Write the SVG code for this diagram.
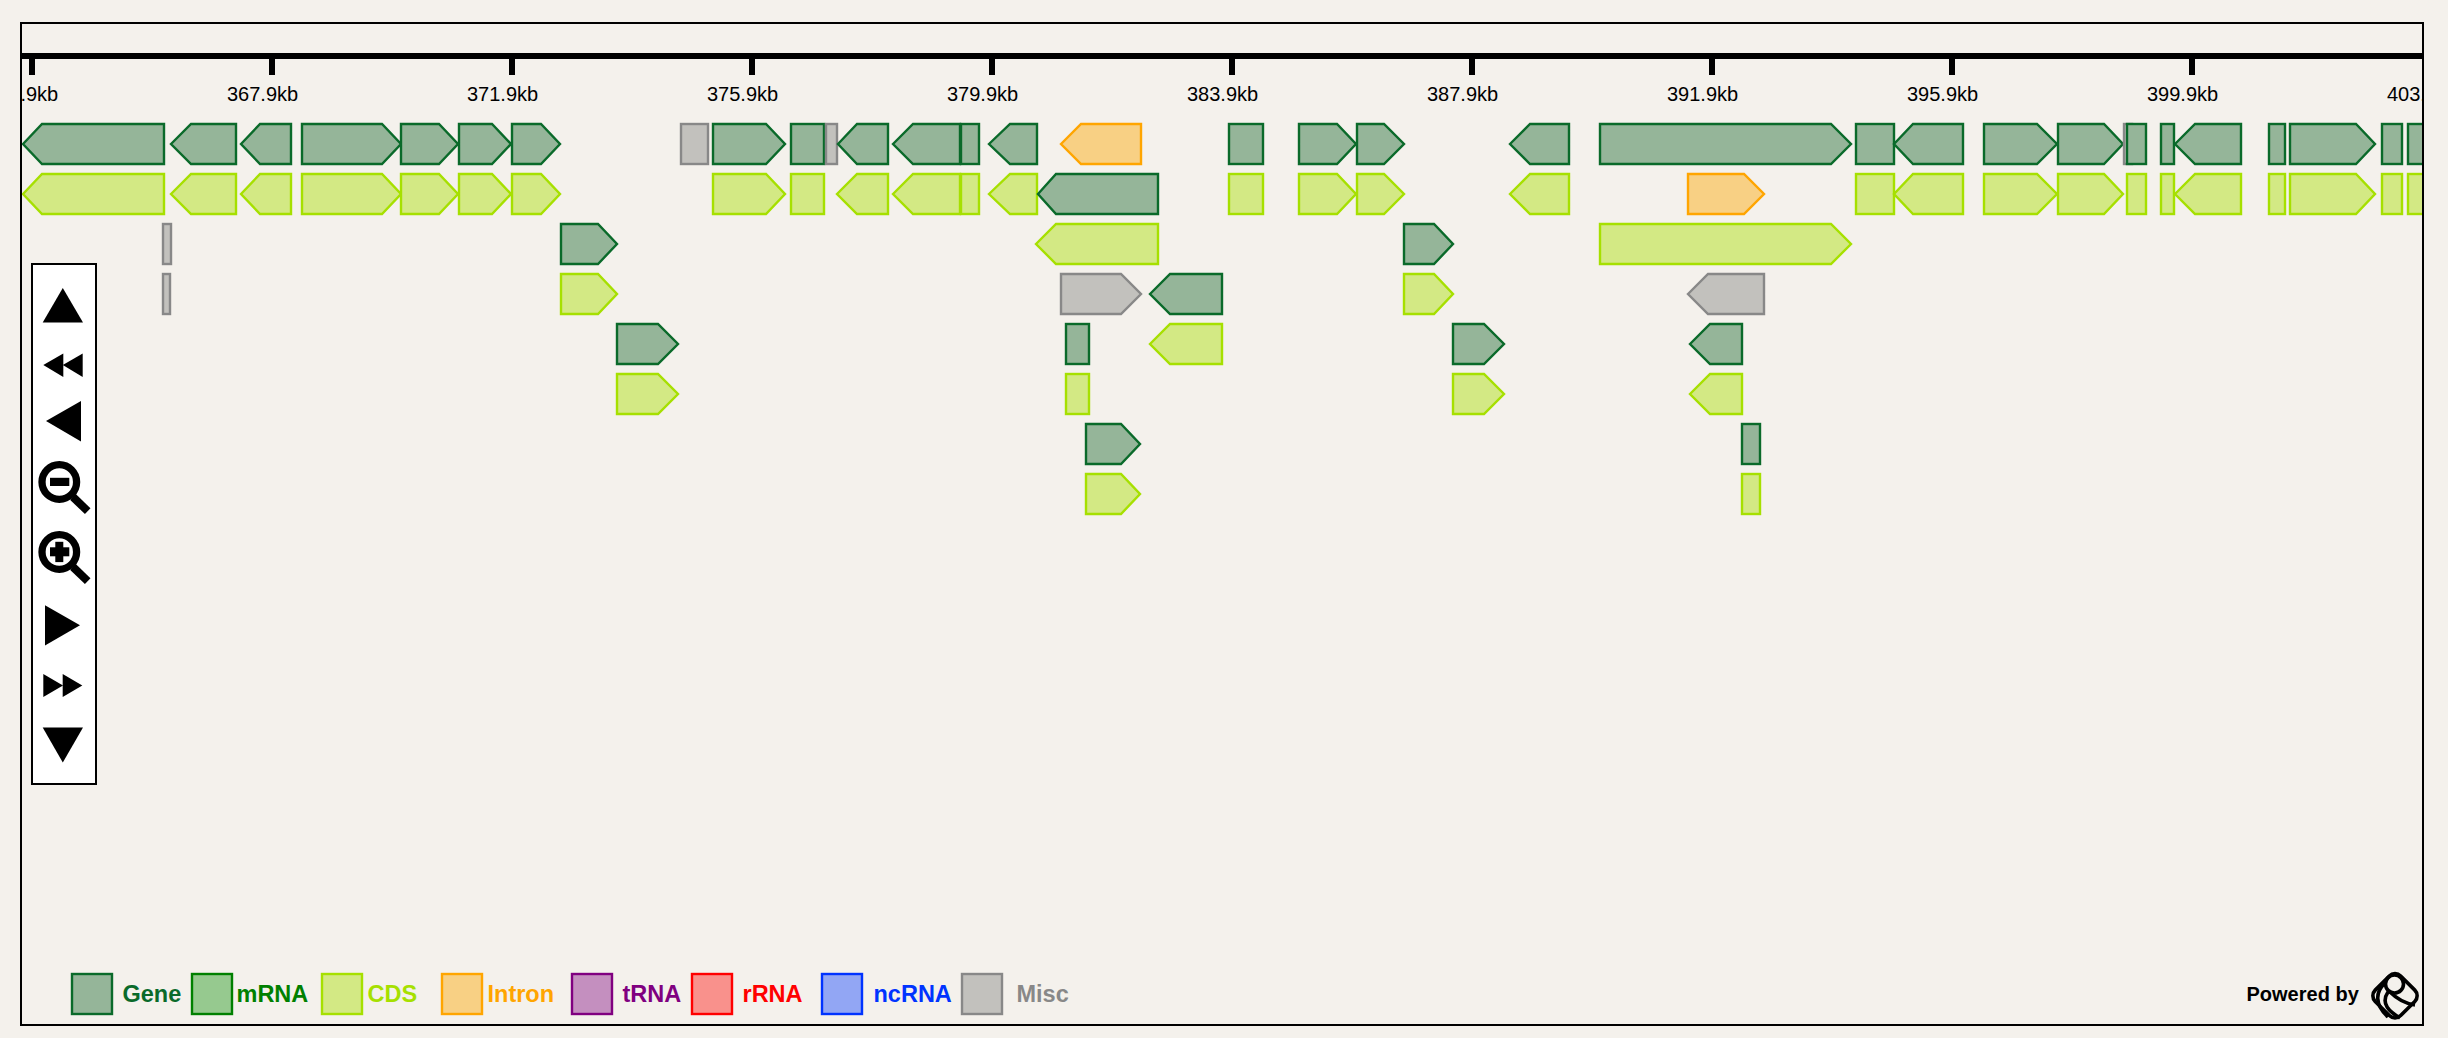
<svg xmlns="http://www.w3.org/2000/svg" width="2448" height="1038" viewBox="0 0 2448 1038">
<style>
text{font-family:"Liberation Sans",Arial,sans-serif}
.tick{font-size:20px;fill:#000}
.lg{font-size:23.5px;font-weight:bold}
polygon,rect.f{stroke-width:2.4;stroke-linejoin:miter}
.gene{fill:#95b599;stroke:#0a6a2a}
.cds{fill:#d3e984;stroke:#a6e000}
.intron{fill:#f8d084;stroke:#ffa500}
.misc{fill:#c2c1bd;stroke:#888}
.mrna{fill:#96c98f;stroke:#008000}
.trna{fill:#c48fbf;stroke:#800080}
.rrna{fill:#f9918c;stroke:#f00}
.ncrna{fill:#92a6f4;stroke:#03f}
.ic{fill:#000;stroke:none}
</style>
<defs><clipPath id="c"><rect x="21" y="23" width="2402" height="1002"/></clipPath></defs>
<rect width="2448" height="1038" fill="#f4f1ec"/>
<g id="track" clip-path="url(#c)">
<g id="axis">
<rect x="21" y="53" width="2402" height="6"/>
<rect x="29" y="59" width="6" height="16"/><rect x="269" y="59" width="6" height="16"/><rect x="509" y="59" width="6" height="16"/><rect x="749" y="59" width="6" height="16"/><rect x="989" y="59" width="6" height="16"/><rect x="1229" y="59" width="6" height="16"/><rect x="1469" y="59" width="6" height="16"/><rect x="1709" y="59" width="6" height="16"/><rect x="1949" y="59" width="6" height="16"/><rect x="2189" y="59" width="6" height="16"/>
<text class="tick" x="20.400" y="101">.9kb</text><text class="tick" x="227" y="101">367.9kb</text><text class="tick" x="467" y="101">371.9kb</text><text class="tick" x="707" y="101">375.9kb</text><text class="tick" x="947" y="101">379.9kb</text><text class="tick" x="1187" y="101">383.9kb</text><text class="tick" x="1427" y="101">387.9kb</text><text class="tick" x="1667" y="101">391.9kb</text><text class="tick" x="1907" y="101">395.9kb</text><text class="tick" x="2147" y="101">399.9kb</text><text class="tick" x="2387" y="101">403.</text>
</g>
<g id="row1" transform="translate(0,124)">
<g id="g1"><polygon class="gene" points="23,20 42,0 164,0 164,40 42,40"/></g>
<g id="g2"><polygon class="gene" points="171,20 191,0 236,0 236,40 191,40"/></g>
<g id="g3"><polygon class="gene" points="241,20 260,0 291,0 291,40 260,40"/></g>
<g id="g4"><polygon class="gene" points="302,0 382,0 401,20 382,40 302,40"/></g>
<g id="g5"><polygon class="gene" points="401,0 439,0 458,20 439,40 401,40"/></g>
<g id="g6"><polygon class="gene" points="459,0 492,0 511,20 492,40 459,40"/></g>
<g id="g7"><polygon class="gene" points="512,0 541,0 560,20 541,40 512,40"/></g>
<g id="m1"><rect class="f misc" x="681" y="0" width="27" height="40"/></g>
<g id="g8"><polygon class="gene" points="713,0 766,0 785,20 766,40 713,40"/></g>
<g id="g9"><rect class="f gene" x="791" y="0" width="33" height="40"/></g>
<g id="m2"><rect class="f misc" x="826" y="0" width="11" height="40"/></g>
<g id="g10"><polygon class="gene" points="838,20 857,0 888,0 888,40 857,40"/></g>
<g id="g11"><polygon class="gene" points="893,20 913,0 960,0 960,40 913,40"/></g>
<g id="g12"><rect class="f gene" x="961" y="0" width="18" height="40"/></g>
<g id="g13"><polygon class="gene" points="989,20 1010,0 1037,0 1037,40 1010,40"/></g>
<g id="i1"><polygon class="intron" points="1061,20 1081,0 1141,0 1141,40 1081,40"/></g>
<g id="g14"><rect class="f gene" x="1229" y="0" width="34" height="40"/></g>
<g id="g15"><polygon class="gene" points="1299,0 1337,0 1356,20 1337,40 1299,40"/></g>
<g id="g16"><polygon class="gene" points="1357,0 1384,0 1404,20 1384,40 1357,40"/></g>
<g id="g17"><polygon class="gene" points="1510,20 1530,0 1569,0 1569,40 1530,40"/></g>
<g id="g18"><polygon class="gene" points="1600,0 1831,0 1851,20 1831,40 1600,40"/></g>
<g id="g19"><rect class="f gene" x="1856" y="0" width="38" height="40"/></g>
<g id="g20"><polygon class="gene" points="1894,20 1913,0 1963,0 1963,40 1913,40"/></g>
<g id="g21"><polygon class="gene" points="1984,0 2037,0 2057,20 2037,40 1984,40"/></g>
<g id="g22"><polygon class="gene" points="2058,0 2104,0 2123,20 2104,40 2058,40"/></g>
<g id="m3"><rect class="f misc" x="2124" y="0" width="8" height="40"/></g>
<g id="g23"><rect class="f gene" x="2127" y="0" width="19" height="40"/></g>
<g id="g24"><rect class="f gene" x="2161" y="0" width="13" height="40"/></g>
<g id="g25"><polygon class="gene" points="2175,20 2195,0 2241,0 2241,40 2195,40"/></g>
<g id="g26"><rect class="f gene" x="2269" y="0" width="16" height="40"/></g>
<g id="g27"><polygon class="gene" points="2290,0 2356,0 2375,20 2356,40 2290,40"/></g>
<g id="g28"><rect class="f gene" x="2382" y="0" width="20" height="40"/></g>
<g id="g29"><rect class="f gene" x="2408" y="0" width="30" height="40"/></g>
</g>
<g id="row2" transform="translate(0,174)">
<g id="c1"><polygon class="cds" points="23,20 42,0 164,0 164,40 42,40"/></g>
<g id="c2"><polygon class="cds" points="171,20 191,0 236,0 236,40 191,40"/></g>
<g id="c3"><polygon class="cds" points="241,20 260,0 291,0 291,40 260,40"/></g>
<g id="c4"><polygon class="cds" points="302,0 382,0 401,20 382,40 302,40"/></g>
<g id="c5"><polygon class="cds" points="401,0 439,0 458,20 439,40 401,40"/></g>
<g id="c6"><polygon class="cds" points="459,0 492,0 511,20 492,40 459,40"/></g>
<g id="c7"><polygon class="cds" points="512,0 541,0 560,20 541,40 512,40"/></g>
<g id="c8"><polygon class="cds" points="713,0 766,0 785,20 766,40 713,40"/></g>
<g id="c9"><rect class="f cds" x="791" y="0" width="33" height="40"/></g>
<g id="c10"><polygon class="cds" points="837,20 857,0 888,0 888,40 857,40"/></g>
<g id="c11"><polygon class="cds" points="893,20 913,0 960,0 960,40 913,40"/></g>
<g id="c12"><rect class="f cds" x="961" y="0" width="18" height="40"/></g>
<g id="c13"><polygon class="cds" points="989,20 1010,0 1037,0 1037,40 1010,40"/></g>
<g id="g30"><polygon class="gene" points="1038,20 1056,0 1158,0 1158,40 1056,40"/></g>
<g id="c14"><rect class="f cds" x="1229" y="0" width="34" height="40"/></g>
<g id="c15"><polygon class="cds" points="1299,0 1337,0 1356,20 1337,40 1299,40"/></g>
<g id="c16"><polygon class="cds" points="1357,0 1384,0 1404,20 1384,40 1357,40"/></g>
<g id="c17"><polygon class="cds" points="1510,20 1530,0 1569,0 1569,40 1530,40"/></g>
<g id="i2"><polygon class="intron" points="1688,0 1744,0 1764,20 1744,40 1688,40"/></g>
<g id="c19"><rect class="f cds" x="1856" y="0" width="38" height="40"/></g>
<g id="c20"><polygon class="cds" points="1894,20 1913,0 1963,0 1963,40 1913,40"/></g>
<g id="c21"><polygon class="cds" points="1984,0 2037,0 2057,20 2037,40 1984,40"/></g>
<g id="c22"><polygon class="cds" points="2058,0 2104,0 2123,20 2104,40 2058,40"/></g>
<g id="c23"><rect class="f cds" x="2127" y="0" width="19" height="40"/></g>
<g id="c24"><rect class="f cds" x="2161" y="0" width="13" height="40"/></g>
<g id="c25"><polygon class="cds" points="2175,20 2195,0 2241,0 2241,40 2195,40"/></g>
<g id="c26"><rect class="f cds" x="2269" y="0" width="16" height="40"/></g>
<g id="c27"><polygon class="cds" points="2290,0 2356,0 2375,20 2356,40 2290,40"/></g>
<g id="c28"><rect class="f cds" x="2382" y="0" width="20" height="40"/></g>
<g id="c29"><rect class="f cds" x="2408" y="0" width="30" height="40"/></g>
</g>
<g id="row3" transform="translate(0,224)">
<g id="m4"><rect class="f misc" x="163" y="0" width="8" height="40"/></g>
<g id="g31"><polygon class="gene" points="561,0 598,0 617,20 598,40 561,40"/></g>
<g id="c30"><polygon class="cds" points="1036,20 1056,0 1158,0 1158,40 1056,40"/></g>
<g id="g32"><polygon class="gene" points="1404,0 1434,0 1453,20 1434,40 1404,40"/></g>
<g id="c18"><polygon class="cds" points="1600,0 1831,0 1851,20 1831,40 1600,40"/></g>
</g>
<g id="row4" transform="translate(0,274)">
<g id="m5"><rect class="f misc" x="163" y="0" width="7" height="40"/></g>
<g id="c31"><polygon class="cds" points="561,0 598,0 617,20 598,40 561,40"/></g>
<g id="m6"><polygon class="misc" points="1061,0 1121,0 1141,20 1121,40 1061,40"/></g>
<g id="g33"><polygon class="gene" points="1150,20 1170,0 1222,0 1222,40 1170,40"/></g>
<g id="c32"><polygon class="cds" points="1404,0 1434,0 1453,20 1434,40 1404,40"/></g>
<g id="m7"><polygon class="misc" points="1688,20 1708,0 1764,0 1764,40 1708,40"/></g>
</g>
<g id="row5" transform="translate(0,324)">
<g id="g34"><polygon class="gene" points="617,0 658,0 678,20 658,40 617,40"/></g>
<g id="g35"><rect class="f gene" x="1066" y="0" width="23" height="40"/></g>
<g id="c33"><polygon class="cds" points="1150,20 1170,0 1222,0 1222,40 1170,40"/></g>
<g id="g36"><polygon class="gene" points="1453,0 1484,0 1504,20 1484,40 1453,40"/></g>
<g id="g37"><polygon class="gene" points="1690,20 1710,0 1742,0 1742,40 1710,40"/></g>
</g>
<g id="row6" transform="translate(0,374)">
<g id="c34"><polygon class="cds" points="617,0 658,0 678,20 658,40 617,40"/></g>
<g id="c35"><rect class="f cds" x="1066" y="0" width="23" height="40"/></g>
<g id="c36"><polygon class="cds" points="1453,0 1484,0 1504,20 1484,40 1453,40"/></g>
<g id="c37"><polygon class="cds" points="1690,20 1710,0 1742,0 1742,40 1710,40"/></g>
</g>
<g id="row7" transform="translate(0,424)">
<g id="g38"><polygon class="gene" points="1086,0 1121,0 1140,20 1121,40 1086,40"/></g>
<g id="g39"><rect class="f gene" x="1742" y="0" width="18" height="40"/></g>
</g>
<g id="row8" transform="translate(0,474)">
<g id="c38"><polygon class="cds" points="1086,0 1121,0 1140,20 1121,40 1086,40"/></g>
<g id="c39"><rect class="f cds" x="1742" y="0" width="18" height="40"/></g>
</g>
</g>
<g id="frame"><rect x="21" y="23" width="2402" height="1002" fill="none" stroke="#000" stroke-width="2"/></g>
<g id="nav">
<rect x="32" y="264" width="64" height="520" fill="#fff" stroke="#000" stroke-width="2"/>
<g id="nav-up"><polygon class="ic" points="62.8,288 83,322.500 42.700,322.500"/></g>
<g id="nav-rew"><polygon class="ic" points="43.300,365 63.300,353.500 63.300,377"/><polygon class="ic" points="62.800,365 82.700,353.500 82.700,377"/></g>
<g id="nav-left"><polygon class="ic" points="46,421 81,401 81,441.500"/></g>
<g id="nav-zoomout"><circle cx="59.300" cy="482" r="17.300" fill="none" stroke="#000" stroke-width="7.300"/><line x1="73" y1="497" x2="87.700" y2="511.200" stroke="#000" stroke-width="8"/><rect x="50" y="477.800" width="19.300" height="8.200"/></g>
<g id="nav-zoomin"><circle cx="59.300" cy="552" r="17.300" fill="none" stroke="#000" stroke-width="7.300"/><line x1="73" y1="567" x2="87.700" y2="581.200" stroke="#000" stroke-width="8"/><rect x="50" y="547.300" width="19.300" height="9"/><rect x="55.300" y="541.800" width="8" height="20.300"/></g>
<g id="nav-right"><polygon class="ic" points="45,605.200 80,625.300 45,645.500"/></g>
<g id="nav-ff"><polygon class="ic" points="43.300,674 63,685.500 43.300,697"/><polygon class="ic" points="62.700,674 82.300,685.500 62.700,697"/></g>
<g id="nav-down"><polygon class="ic" points="42.700,727.500 83,727.500 62.800,762.500"/></g>
</g>
<g id="legend">
<g id="lg-gene"><rect class="f gene" x="72" y="974" width="40" height="40"/><text class="lg" x="122.500" y="1002" fill="#0a6a2a">Gene</text></g>
<g id="lg-mrna"><rect class="f mrna" x="192" y="974" width="40" height="40"/><text class="lg" x="236.500" y="1002" fill="#008000">mRNA</text></g>
<g id="lg-cds"><rect class="f cds" x="322" y="974" width="40" height="40"/><text class="lg" x="367.500" y="1002" fill="#a6e000">CDS</text></g>
<g id="lg-intron"><rect class="f intron" x="442" y="974" width="40" height="40"/><text class="lg" x="487.500" y="1002" fill="#ffa500">Intron</text></g>
<g id="lg-trna"><rect class="f trna" x="572" y="974" width="40" height="40"/><text class="lg" x="622.500" y="1002" fill="#800080">tRNA</text></g>
<g id="lg-rrna"><rect class="f rrna" x="692" y="974" width="40" height="40"/><text class="lg" x="742.500" y="1002" fill="#f00">rRNA</text></g>
<g id="lg-ncrna"><rect class="f ncrna" x="822" y="974" width="40" height="40"/><text class="lg" x="873.500" y="1002" fill="#03f">ncRNA</text></g>
<g id="lg-misc"><rect class="f misc" x="962" y="974" width="40" height="40"/><text class="lg" x="1016.500" y="1002" fill="#888">Misc</text></g>
</g>
<g id="powered">
<text x="2246.500" y="1001" font-size="20" font-weight="bold">Powered by</text>
<g fill="none" stroke="#000" stroke-width="3.600">
<rect x="2377" y="977.800" width="36" height="36" rx="8" transform="rotate(45 2395 995.800)"/>
<circle cx="2394.500" cy="984" r="9"/>
<path d="M2384 984C2376 992 2374 1004 2388 1017"/>
<path d="M2388 992C2380 1004 2390 1012 2400 1018"/>
<path d="M2390 992C2398 1000 2408 1004 2415 1005"/>
</g>
</g>
</svg>
